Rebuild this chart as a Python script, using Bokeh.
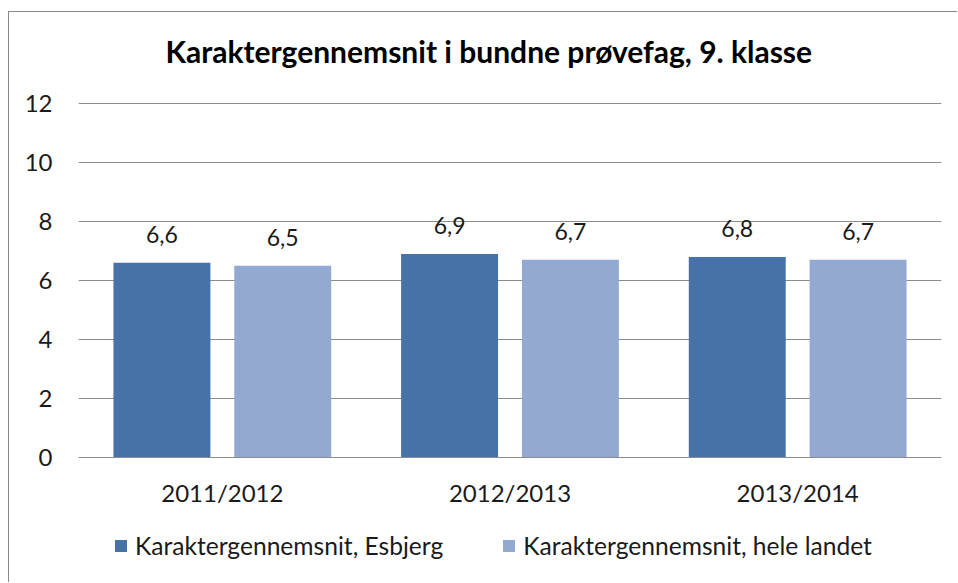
from bokeh.plotting import figure
from bokeh.layouts import column
from bokeh.models import (ColumnDataSource, FactorRange, Range1d, FixedTicker, Legend,
                          LegendItem, LabelSet, Title)
from bokeh.core.properties import value
from bokeh.transform import dodge
from bokeh.embed import file_html
from bokeh.resources import INLINE

years = ["2011/2012", "2012/2013", "2013/2014"]
esbjerg = [6.6, 6.9, 6.8]
landet = [6.5, 6.7, 6.7]
y_ticks = [0, 2, 4, 6, 8, 10, 12]
series_names = ["Karaktergennemsnit, Esbjerg", "Karaktergennemsnit, hele landet"]
title_text = "Karaktergennemsnit i bundne  prøvefag, 9. klasse"

FONT = "Lato"
DARK = "#4672A7"
LIGHT = "#94A9D1"
GRID = "#8C8C8C"
TXT = "#1A1A1A"
FS = "24px"

src = ColumnDataSource(dict(
    years=years,
    esb=esbjerg,
    lan=landet,
    esb_lbl=[f"{v:.1f}".replace(".", ",") for v in esbjerg],
    lan_lbl=[f"{v:.1f}".replace(".", ",") for v in landet],
))

p = figure(width=948, height=503, output_backend="svg", toolbar_location=None,
           x_range=FactorRange(*years, range_padding=0), y_range=Range1d(0, 12.78),
           min_border_left=69, min_border_right=16, min_border_top=68, min_border_bottom=58)
p.title = None
p.add_layout(Title(text=title_text, text_font=FONT, text_font_size="30px",
                   text_font_style="bold", text_color="#000000", align="left",
                   offset=87, standoff=23), "above")

p.outline_line_color = None
p.background_fill_color = "white"
p.border_fill_color = "white"

r1 = p.vbar(x=dodge("years", -0.21, range=p.x_range), top="esb", width=0.337,
            source=src, fill_color=DARK, line_color=None)
r2 = p.vbar(x=dodge("years", 0.21, range=p.x_range), top="lan", width=0.337,
            source=src, fill_color=LIGHT, line_color=None)

for col, lbl, off in (("esb", "esb_lbl", -0.21), ("lan", "lan_lbl", 0.21)):
    p.add_layout(LabelSet(x=dodge("years", off, range=p.x_range), y=col, text=lbl,
                          source=src, text_align="center", text_baseline="alphabetic",
                          y_offset=20, text_font=value(FONT), text_font_size=value("23px"),
                          text_color=TXT))

p.yaxis.ticker = FixedTicker(ticks=y_ticks)
p.yaxis.axis_line_color = None
p.yaxis.major_tick_line_color = None
p.yaxis.major_tick_out = 0
p.yaxis.major_tick_in = 0
p.yaxis.minor_tick_line_color = None
p.yaxis.major_label_standoff = 26
p.yaxis.major_label_text_font = FONT
p.yaxis.major_label_text_font_size = FS
p.yaxis.major_label_text_color = TXT

p.xaxis.axis_line_color = GRID
p.xaxis.major_tick_line_color = None
p.xaxis.major_tick_out = 0
p.xaxis.major_tick_in = 0
p.xaxis.minor_tick_line_color = None
p.xaxis.major_label_standoff = 20
p.xaxis.major_label_text_font = FONT
p.xaxis.major_label_text_font_size = FS
p.xaxis.major_label_text_color = TXT

p.xgrid.grid_line_color = None
p.ygrid.grid_line_color = GRID
p.ygrid.grid_line_width = 1

# legend strip below the plot (its frame is aligned with the main frame)
lg = figure(width=948, height=67, output_backend="svg", toolbar_location=None,
            x_range=Range1d(0, 1), y_range=Range1d(0, 1),
            x_axis_type=None, y_axis_type=None,
            min_border_left=0, min_border_right=0, min_border_top=0, min_border_bottom=0)
lg.outline_line_color = None
lg.xgrid.grid_line_color = None
lg.ygrid.grid_line_color = None
swatch = ColumnDataSource(dict(x=[float("nan")], top=[float("nan")]))
k1 = lg.vbar(x="x", top="top", width=0.1, source=swatch, fill_color=DARK, line_color=None)
k2 = lg.vbar(x="x", top="top", width=0.1, source=swatch, fill_color=LIGHT, line_color=None)
legend = Legend(items=[LegendItem(label=series_names[0], renderers=[k1]),
                       LegendItem(label=series_names[1], renderers=[k2])],
                orientation="horizontal", location=(35, 22),
                glyph_width=15, glyph_height=15, label_standoff=7, spacing=58,
                padding=0, margin=0, border_line_color=None,
                background_fill_alpha=0, label_text_font=FONT,
                label_text_font_size="24.6px", label_text_color=TXT)
lg.add_layout(legend, "center")

layout = column(p, lg, spacing=0,
                styles={"margin-left": "8px", "margin-top": "11px",
                        "border-left": "1px solid #8A8A8A",
                        "border-top": "1px solid #8A8A8A"})

open("out.html", "w").write(file_html(layout, INLINE))
